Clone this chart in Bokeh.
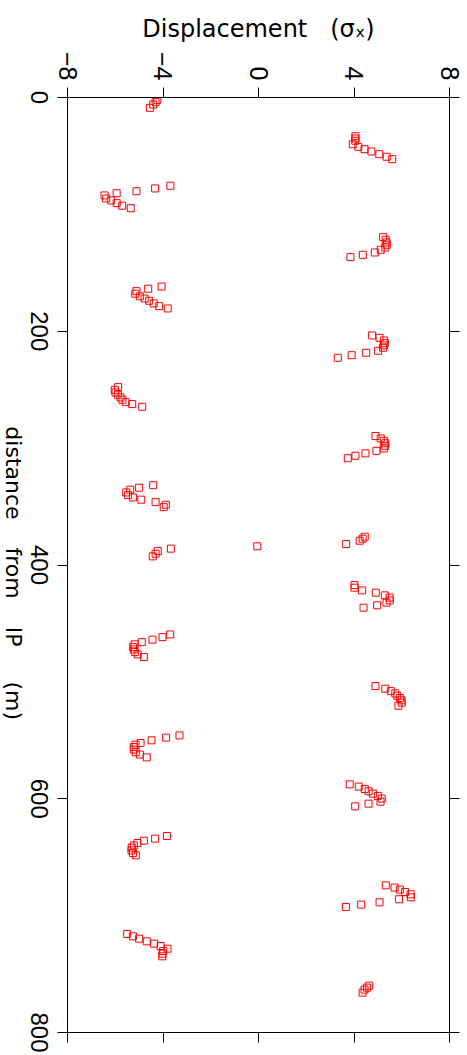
import math
from bokeh.plotting import figure
from bokeh.layouts import row, column
from bokeh.models import LinearAxis, FixedTicker, Range1d, ColumnDataSource
from bokeh.core.properties import value
from bokeh.embed import file_html
from bokeh.resources import INLINE

# ---- data (distance from IP in m, horizontal displacement in sigma_x) ----
distance_m = [
    2.0, 4.0, 6.0, 8.8,
    33.1, 35.1, 37.0, 40.0, 42.2, 44.2, 46.2, 48.5, 50.7, 52.8,
    75.5, 77.8, 80.2, 81.9, 83.8, 86.4, 88.1, 90.4, 92.6, 94.7,
    119.5, 121.7, 124.0, 126.0, 128.3, 130.3, 132.6, 134.6, 136.6,
    161.7, 163.6, 165.7, 167.9, 170.1, 172.0, 173.9, 176.2, 178.5, 180.5,
    203.6, 205.6, 207.9, 210.2, 212.1, 214.1, 216.7, 218.4, 220.5, 222.7,
    247.8, 250.1, 252.4, 254.3, 256.6, 258.6, 260.6, 262.3, 264.6,
    289.7, 291.7, 293.7, 295.8, 298.0, 300.3, 302.3, 304.5, 306.5, 308.6,
    331.7, 333.9, 335.6, 337.9, 340.2, 342.2, 344.1, 346.2, 348.4, 350.5,
    375.8, 377.5, 379.2, 382.1,
    384.0,
    386.0, 388.1, 390.3, 392.6,
    417.2, 419.4, 421.7, 423.7, 426.0, 427.9, 430.3, 432.2, 434.5, 436.5,
    459.4, 461.7, 463.9, 466.0, 467.9, 470.2, 472.2, 474.5, 476.5, 478.8,
    503.6, 505.8, 507.9, 509.8, 511.8, 513.8, 515.8, 517.8, 520.4,
    545.8, 547.7, 550.0, 552.3, 553.7, 555.7, 557.9, 560.2, 562.2, 564.6,
    587.7, 589.6, 591.7, 593.6, 595.6, 597.7, 599.9, 602.5, 604.2, 606.5,
    631.9, 634.1, 635.9, 637.9, 639.9, 641.8, 644.2, 646.5, 648.4,
    674.1, 676.0, 677.7, 679.8, 681.8, 684.3, 686.0, 688.6, 690.6, 692.6,
    715.7, 717.7, 719.7, 722.0, 724.0, 726.0, 728.3, 730.3, 732.5, 734.8,
    759.9, 761.6, 763.3, 765.9,
]
displacement_sigma = [
    -4.24, -4.31, -4.41, -4.55,
    4.06, 4.06, 4.05, 3.95, 4.18, 4.44, 4.73, 5.06, 5.37, 5.60,
    -3.69, -4.33, -5.11, -5.94, -6.45, -6.38, -6.17, -5.94, -5.71, -5.35,
    5.22, 5.33, 5.36, 5.37, 5.31, 5.12, 4.87, 4.37, 3.85,
    -4.06, -4.62, -5.11, -5.16, -4.97, -4.77, -4.58, -4.39, -4.16, -3.80,
    4.76, 5.07, 5.25, 5.29, 5.25, 5.21, 5.01, 4.51, 3.90, 3.32,
    -5.88, -6.02, -5.99, -5.89, -5.78, -5.70, -5.56, -5.29, -4.87,
    4.90, 5.12, 5.25, 5.31, 5.31, 5.25, 4.94, 4.48, 4.06, 3.74,
    -4.41, -5.00, -5.37, -5.54, -5.46, -5.26, -4.91, -4.31, -3.88, -3.97,
    4.45, 4.36, 4.24, 3.67,
    -0.05,
    -3.67, -4.22, -4.31, -4.43,
    4.02, 4.02, 4.34, 4.91, 5.29, 5.49, 5.50, 5.36, 4.97, 4.40,
    -3.70, -4.02, -4.44, -4.89, -5.19, -5.25, -5.22, -5.18, -5.06, -4.80,
    4.90, 5.31, 5.54, 5.73, 5.81, 5.92, 5.99, 6.00, 5.86,
    -3.31, -3.87, -4.48, -4.94, -5.15, -5.22, -5.22, -5.14, -4.97, -4.68,
    3.82, 4.20, 4.45, 4.61, 4.79, 5.00, 5.16, 5.11, 4.61, 4.05,
    -3.84, -4.33, -4.80, -5.07, -5.22, -5.31, -5.32, -5.26, -5.14,
    5.33, 5.70, 5.92, 6.14, 6.37, 6.38, 5.89, 5.07, 4.30, 3.66,
    -5.50, -5.26, -5.00, -4.68, -4.37, -4.10, -3.81, -3.99, -4.02, -4.03,
    4.64, 4.54, 4.44, 4.36,
]

x_ticks = [-8, -4, 0, 4, 8]
x_tick_labels = {-8: "\u22128", -4: "\u22124", 0: "0", 4: "4", 8: "8"}
y_ticks = [0, 200, 400, 600, 800]
y_tick_labels = ["0", "200", "400", "600", "800"]
NB = "\u00a0"
x_title = "Displacement" + NB * 3 + "(\u03c3\u2093)"
y_title = "distance" + NB * 4 + "from" + NB * 4 + "IP" + NB * 5 + "(m)"

# ---- layout constants (pixels) ----
H = 1055
LEFT_W = 53          # strip that carries the rotated y tick labels and y title
MAIN_W = 414
TOP, BOTTOM, RIGHT, LEFT_IN = 97, 23, 18, 14
Y0, Y1 = 0, 800
px_per_unit = (H - TOP - BOTTOM) / (Y1 - Y0)
TICK_FONT = "Liberation Sans"
LABEL_FONT = "DejaVu Sans"

src = ColumnDataSource(dict(x=displacement_sigma, y=distance_m))

p = figure(width=MAIN_W, height=H, x_range=Range1d(-8, 8), y_range=Range1d(Y1, Y0),
           x_axis_location="above", y_axis_location="left",
           output_backend="svg", toolbar_location=None,
           min_border_left=LEFT_IN, min_border_top=TOP, min_border_right=RIGHT,
           min_border_bottom=BOTTOM)
p.grid.visible = False
p.outline_line_color = "black"
p.background_fill_color = "white"
p.border_fill_color = "white"

def style_axis(ax):
    ax.axis_line_color = "black"
    ax.axis_line_width = 1
    ax.major_tick_line_color = "black"
    ax.major_tick_out = 10
    ax.major_tick_in = 0
    ax.minor_tick_line_color = None
    ax.major_label_text_font = TICK_FONT
    ax.major_label_text_font_size = "25px"
    ax.major_label_text_color = "black"
    ax.axis_label_text_font = LABEL_FONT
    ax.axis_label_text_font_style = "normal"
    ax.axis_label_text_color = "black"

def hide_labels(ax):
    ax.major_label_text_color = None
    ax.major_label_text_font_size = "0px"
    ax.major_label_standoff = 0

xa = p.xaxis[0]
style_axis(xa)
xa.ticker = FixedTicker(ticks=x_ticks)
xa.major_label_overrides = x_tick_labels
xa.major_label_orientation = -math.pi / 2
xa.major_label_standoff = 7
xa.axis_label = x_title
xa.axis_label_text_font_size = "24px"
xa.axis_label_standoff = 6

ya = p.yaxis[0]
style_axis(ya)
ya.ticker = FixedTicker(ticks=y_ticks)
hide_labels(ya)

xb = LinearAxis(ticker=FixedTicker(ticks=x_ticks))
style_axis(xb)
hide_labels(xb)
p.add_layout(xb, "below")

yr = LinearAxis(ticker=FixedTicker(ticks=y_ticks))
style_axis(yr)
hide_labels(yr)
p.add_layout(yr, "right")

p.scatter("x", "y", source=src, marker="square", size=7, line_color="red",
          fill_color=None, line_width=1)

# ---- left strip: same vertical scale as the main plot, carries rotated texts ----
strip_top = Y0 - TOP / px_per_unit
strip_bottom = Y0 + (H - TOP) / px_per_unit
left = figure(width=LEFT_W, height=H, x_range=Range1d(0, LEFT_W),
              y_range=Range1d(strip_bottom, strip_top),
              x_axis_location=None, y_axis_location=None,
              output_backend="svg", toolbar_location=None,
              min_border_left=0, min_border_right=0, min_border_top=0, min_border_bottom=0)
left.grid.visible = False
left.outline_line_color = None
left.background_fill_color = "white"
left.border_fill_color = "white"

lab_src = ColumnDataSource(dict(y=y_ticks, text=y_tick_labels, x=[39.3] * len(y_ticks)))
left.text(x="x", y="y", text="text", source=lab_src, angle=-math.pi / 2,
          text_align="center", text_baseline="middle",
          text_font=value(TICK_FONT), text_font_size=value("24px"), text_color="black")

title_src = ColumnDataSource(dict(x=[12.9], y=[(Y0 + Y1) / 2 + 7], text=[y_title]))
left.text(x="x", y="y", text="text", source=title_src, angle=-math.pi / 2,
          text_align="center", text_baseline="middle",
          text_font=value(LABEL_FONT), text_font_size=value("22px"), text_color="black")

# nest each plot in its own column so the two canvases keep independent frames
layout = row(column(left), column(p))
open("out.html", "w").write(file_html(layout, INLINE))
